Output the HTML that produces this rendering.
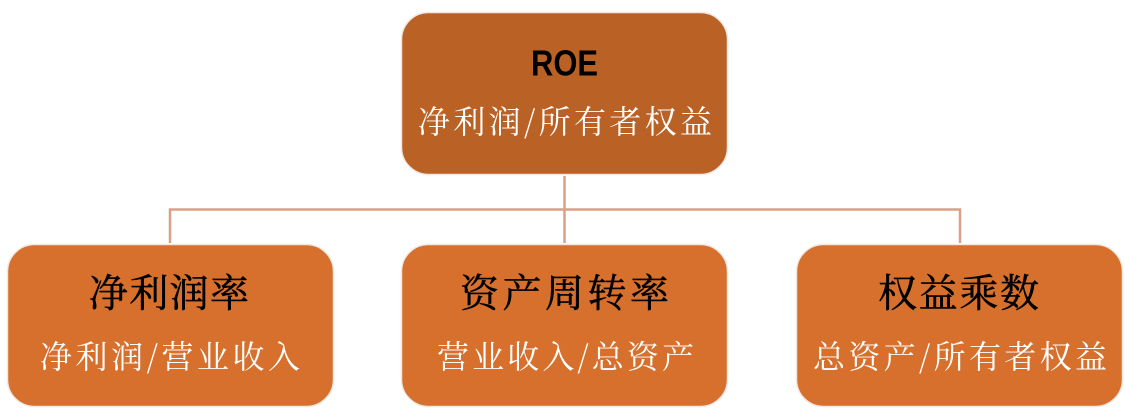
<!DOCTYPE html>
<html lang="zh">
<head>
<meta charset="utf-8">
<title>ROE</title>
<style>
html,body{margin:0;padding:0;background:#fff;width:1125px;height:414px;overflow:hidden}
svg{display:block}
.t{font-family:"Noto Serif CJK SC","Liberation Serif",serif;fill:#000;font-size:39px;stroke:#000;stroke-width:.5px}
.s{font-family:"Noto Serif CJK SC","Liberation Serif",serif;fill:#fff;font-size:32px}
.r{font-family:"Liberation Sans","Noto Sans CJK SC",sans-serif;font-weight:bold;fill:#000;font-size:36px}
</style>
</head>
<body>
<svg width="1125" height="414" viewBox="0 0 1125 414" xmlns="http://www.w3.org/2000/svg">
<g fill="none" stroke="#D9A088" stroke-width="2.500">
<path d="M170 243V209.500H960V243"/>
<path d="M564.500 176V243"/>
</g>
<g stroke="#EFE8E4" stroke-width="1.500">
<rect x="401.500" y="12.500" width="326" height="162" rx="27" fill="#BA6126"/>
<rect x="7.500" y="244.500" width="326" height="162" rx="27" fill="#D6702C"/>
<rect x="401.500" y="244.500" width="326" height="162" rx="27" fill="#D6702C"/>
<rect x="796.500" y="244.500" width="326" height="162" rx="27" fill="#D6702C"/>
</g>
<text class="r" x="564.500" y="75.500" text-anchor="middle" textLength="67" lengthAdjust="spacingAndGlyphs">ROE</text>
<text class="s" x="418" y="133" textLength="294">净利润/所有者权益</text>
<text class="t" x="89" y="307" textLength="160">净利润率</text>
<text class="s" x="40" y="368" textLength="260">净利润/营业收入</text>
<text class="t" x="460" y="307" textLength="209">资产周转率</text>
<text class="s" x="437" y="368" textLength="257">营业收入/总资产</text>
<text class="t" x="878" y="307" textLength="161">权益乘数</text>
<text class="s" x="813" y="368" textLength="294">总资产/所有者权益</text>
</svg>
</body>
</html>
